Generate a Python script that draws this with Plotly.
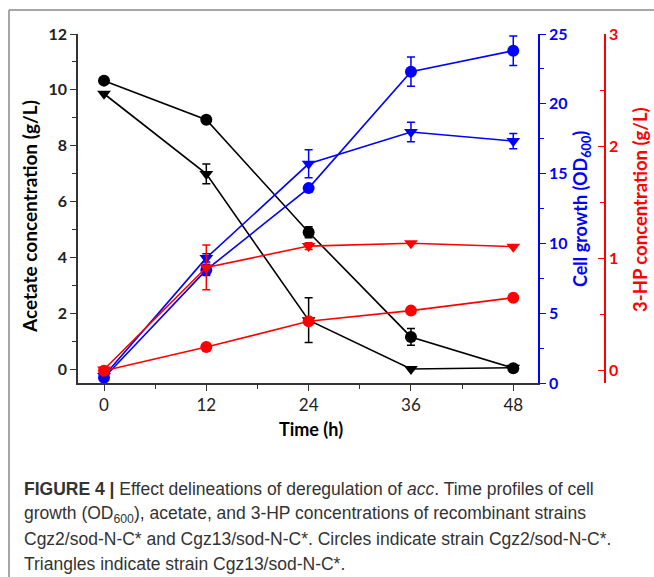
import plotly.graph_objects as go

W, H = 654, 577
time_h = [0, 12, 24, 36, 48]

# Acetate (g/L)
acetate_circ = [10.33, 8.93, 4.90, 1.15, 0.03]
acetate_circ_err = [0, 0, 0.2, 0.3, 0]
acetate_tri = [9.86, 6.99, 1.75, 0.0, 0.05]
acetate_tri_err = [0, 0.35, 0.8, 0, 0]

# Cell growth OD600
od_circ = [0.38, 8.1, 13.96, 22.3, 23.8]
od_circ_err = [0, 0.4, 0, 1.05, 1.05]
od_tri = [0.5, 8.96, 15.7, 17.98, 17.33]
od_tri_err = [0, 0.3, 1.0, 0.7, 0.55]

# 3-HP (g/L)
hp_circ = [0.0, 0.21, 0.44, 0.535, 0.65]
hp_tri = [0.01, 0.92, 1.11, 1.135, 1.105]
hp_tri_err = [0, 0.2, 0.03, 0, 0]

BLACK, BLUE, RED = "#000000", "#0000ff", "#ff0000"
FONT = "Lato"

def px(x):
    return x / W

def py(y):
    return 1 - y / H

fig = go.Figure()

def add(y, err, color, symbol, axis):
    fig.add_trace(go.Scatter(
        x=time_h, y=y, yaxis=axis, mode="lines+markers",
        line=dict(color=color, width=1.6),
        marker=dict(symbol=symbol, size=12, color=color),
        error_y=dict(type="data", array=err, visible=True, color=color, thickness=1.5, width=4) if err else None,
        showlegend=False, cliponaxis=False,
    ))

add(acetate_circ, acetate_circ_err, BLACK, "circle", "y")
add(acetate_tri, acetate_tri_err, BLACK, "triangle-down", "y")
add(od_circ, od_circ_err, BLUE, "circle", "y2")
add(od_tri, od_tri_err, BLUE, "triangle-down", "y2")
add(hp_circ, None, RED, "circle", "y3")
add(hp_tri, hp_tri_err, RED, "triangle-down", "y3")

dom_x = [px(78), px(538)]
dom_y = [py(383), py(34)]

fig.update_layout(
    width=W, height=H,
    margin=dict(l=0, r=0, t=0, b=0),
    paper_bgcolor="white", plot_bgcolor="white",
    font=dict(family=FONT, color="black"),
    xaxis=dict(
        domain=dom_x, range=[-3.05, 50.9], tickvals=time_h,
        ticks="outside", ticklen=6, tickwidth=1.2, tickcolor="#333",
        minor=dict(tickvals=[6, 18, 30, 42], ticks="outside", ticklen=4, tickcolor="#333", tickwidth=1.2),
        showline=True, linecolor="#333", linewidth=1.5, showgrid=False, zeroline=False,
        tickfont=dict(size=17, family=FONT, color="#222"), automargin=False,
    ),
    yaxis=dict(
        domain=dom_y, range=[-0.5, 12], tickvals=[0, 2, 4, 6, 8, 10, 12],
        ticks="outside", ticklen=6, tickwidth=1.2, tickcolor="#333",
        minor=dict(tickvals=[1, 3, 5, 7, 9, 11], ticks="outside", ticklen=4, tickcolor="#333", tickwidth=1.2),
        showline=True, linecolor="#333", linewidth=1.5, showgrid=False, zeroline=False,
        tickfont=dict(size=16, family=FONT, color="#222", weight="bold"), automargin=False,
    ),
    yaxis2=dict(
        overlaying="y", side="right", anchor="x", range=[0, 25.0],
        tickvals=[0, 5, 10, 15, 20, 25],
        ticks="outside", ticklen=6, tickwidth=1.2, tickcolor=BLUE,
        minor=dict(tickvals=[2.5, 7.5, 12.5, 17.5, 22.5], ticks="outside", ticklen=4, tickcolor=BLUE, tickwidth=1.2),
        showline=True, linecolor=BLUE, linewidth=1.5, showgrid=False, zeroline=False,
        tickfont=dict(size=16, family=FONT, color=BLUE, weight="bold"), automargin=False,
    ),
    yaxis3=dict(
        overlaying="y", side="right", anchor="free", position=px(605), range=[-0.11, 3],
        tickvals=[0, 1, 2, 3],
        ticks="inside", ticklen=6, tickwidth=1.2, tickcolor=RED,
        minor=dict(tickvals=[0.5, 1.5, 2.5], ticks="inside", ticklen=4, tickcolor=RED, tickwidth=1.2),
        showline=True, linecolor=RED, linewidth=1.5, showgrid=False, zeroline=False,
        tickfont=dict(size=16, family=FONT, color=RED, weight="bold"), automargin=False,
    ),
)

ann = [
    dict(text="<b>Acetate concentration (g/L)</b>", x=px(30), y=py(217), textangle=-90,
         font=dict(size=19, color="black", family=FONT)),
    dict(text="<b>Cell growth (OD<sub>600</sub>)</b>", x=px(581), y=py(209), textangle=-90,
         font=dict(size=18, color=BLUE, family=FONT)),
    dict(text="<b>3-HP concentration (g/L)</b>", x=px(640), y=py(210), textangle=-90,
         font=dict(size=18.5, color=RED, family=FONT)),
    dict(text="<b>Time (h)</b>", x=px(311), y=py(429),
         font=dict(size=18, color="black", family=FONT)),
]
for a in ann:
    a.update(xref="paper", yref="paper", showarrow=False, xanchor="center", yanchor="middle")
    fig.add_annotation(**a)

caption = [
    "<b>FIGURE 4 |</b> Effect delineations of deregulation of <i>acc</i>. Time profiles of cell",
    "growth (OD<sub>600</sub>), acetate, and 3-HP concentrations of recombinant strains",
    "Cgz2/sod-N-C* and Cgz13/sod-N-C*. Circles indicate strain Cgz2/sod-N-C*.",
    "Triangles indicate strain Cgz13/sod-N-C*.",
]
for i, line in enumerate(caption):
    fig.add_annotation(text=line, x=px(22), y=py(489 + 25 * i), xref="paper", yref="paper",
                       showarrow=False, xanchor="left", yanchor="middle",
                       font=dict(size=17.5, color="#333", family="Liberation Sans"))

fig.add_shape(type="line", xref="paper", yref="paper", x0=px(9), x1=1, y0=py(10), y1=py(10),
              line=dict(color="#888", width=1.5))
fig.add_shape(type="line", xref="paper", yref="paper", x0=px(9), x1=px(9), y0=py(10), y1=0,
              line=dict(color="#888", width=1.5))

fig.write_html("out.html")
